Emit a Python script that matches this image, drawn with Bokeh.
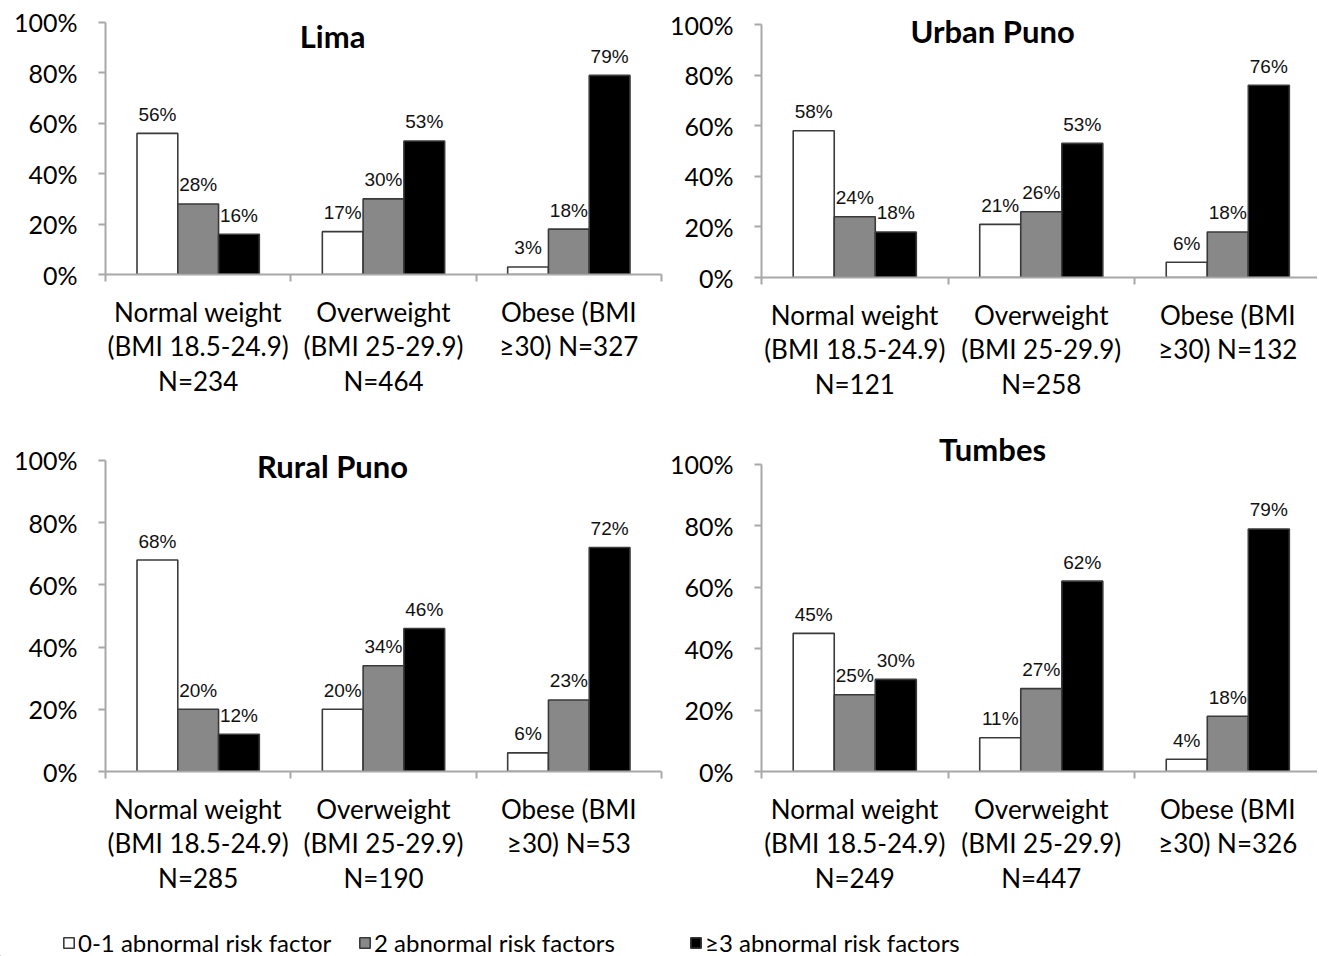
from bokeh.plotting import figure
from bokeh.models import (ColumnDataSource, FixedTicker, PrintfTickFormatter, Range1d,
                          Legend, LegendItem, Label)
from bokeh.layouts import column, row
from bokeh.transform import dodge
from bokeh.core.properties import value
from bokeh.embed import file_html
from bokeh.resources import INLINE

# ---------------- data ----------------
regions = ["Lima", "Urban Puno", "Rural Puno", "Tumbes"]
series = ["0-1 abnormal risk factor", "2 abnormal risk factors", "\u22653 abnormal risk factors"]
group_pos = [0.5, 1.5, 2.5]

lima_labels = ["Normal weight\n(BMI 18.5-24.9)\nN=234", "Overweight\n(BMI 25-29.9)\nN=464", "Obese (BMI\n\u226530) N=327"]
urban_labels = ["Normal weight\n(BMI 18.5-24.9)\nN=121", "Overweight\n(BMI 25-29.9)\nN=258", "Obese (BMI\n\u226530) N=132"]
rural_labels = ["Normal weight\n(BMI 18.5-24.9)\nN=285", "Overweight\n(BMI 25-29.9)\nN=190", "Obese (BMI\n\u226530) N=53"]
tumbes_labels = ["Normal weight\n(BMI 18.5-24.9)\nN=249", "Overweight\n(BMI 25-29.9)\nN=447", "Obese (BMI\n\u226530) N=326"]

lima_low = [56, 17, 3]
lima_two = [28, 30, 18]
lima_high = [16, 53, 79]

urban_low = [58, 21, 6]
urban_two = [24, 26, 18]
urban_high = [18, 53, 76]

rural_low = [68, 20, 6]
rural_two = [20, 34, 23]
rural_high = [12, 46, 72]

tumbes_low = [45, 11, 4]
tumbes_two = [25, 27, 18]
tumbes_high = [30, 62, 79]

y_ticks = [0, 20, 40, 60, 80, 100]

# ---------------- style ----------------
FILLS = ["#ffffff", "#888888", "#000000"]
OUTLINE = "#3a3a3a"
AXIS_COLOR = "#a8a8a8"
TICK_FONT = "Lato"
LBL_FONT = "Liberation Sans"
BAR_W = 0.22
OFFS = [-0.22, 0.0, 0.22]


def panel(name, low, two, high, labels, border_left, frame_w, x_end, frame_h, y_end,
          border_right, border_bottom, title_x, title_y):
    p = figure(frame_width=frame_w, frame_height=frame_h,
               min_border_left=border_left, min_border_right=border_right,
               min_border_top=0, min_border_bottom=border_bottom,
               x_range=Range1d(0, x_end), y_range=Range1d(0, y_end),
               toolbar_location=None, output_backend="svg")
    p.outline_line_color = None
    p.grid.visible = False
    p.background_fill_color = "white"
    p.border_fill_color = "white"

    src = ColumnDataSource(dict(
        x=group_pos, low=low, two=two, high=high,
        low_t=[f"{v}%" for v in low], two_t=[f"{v}%" for v in two], high_t=[f"{v}%" for v in high]))

    for col, off, fill in zip(["low", "two", "high"], OFFS, FILLS):
        p.vbar(x=dodge("x", off), top=col, width=BAR_W, bottom=0, source=src,
               fill_color=fill, line_color=OUTLINE, line_width=1.6)
        p.text(x=dodge("x", off), y=col, text=col + "_t", source=src,
               text_align="center", text_baseline="alphabetic", y_offset=-19,
               text_font=value(LBL_FONT), text_font_size="19px", text_color="#111111")

    p.add_layout(Label(x=title_x, y=title_y, text=name, text_align="center",
                       text_baseline="middle", text_font=TICK_FONT, text_font_style="bold",
                       text_font_size="31px", text_color="#000000"))

    ya = p.yaxis[0]
    ya.ticker = FixedTicker(ticks=y_ticks)
    ya.formatter = PrintfTickFormatter(format="%d%%")
    ya.bounds = (0, 100)
    ya.axis_line_color = AXIS_COLOR
    ya.axis_line_width = 2
    ya.major_tick_line_color = AXIS_COLOR
    ya.major_tick_line_width = 2
    ya.major_tick_out = 7
    ya.major_tick_in = 0
    ya.minor_tick_line_color = None
    ya.major_label_standoff = 21
    ya.major_label_text_font = TICK_FONT
    ya.major_label_text_font_size = "25px"
    ya.major_label_text_color = "#000000"

    xa = p.xaxis[0]
    xa.ticker = FixedTicker(ticks=group_pos, minor_ticks=[0, 1, 2, 3])
    xa.major_label_overrides = {gp: lab for gp, lab in zip(group_pos, labels)}
    xa.axis_line_color = AXIS_COLOR
    xa.axis_line_width = 2
    xa.major_tick_line_color = None
    xa.major_tick_out = 0
    xa.major_tick_in = 0
    xa.minor_tick_line_color = AXIS_COLOR
    xa.minor_tick_line_width = 2
    xa.minor_tick_out = 7
    xa.minor_tick_in = 0
    xa.major_label_standoff = 14
    xa.major_label_text_font = TICK_FONT
    xa.major_label_text_font_size = "26px"
    xa.major_label_text_line_height = 1.09
    xa.major_label_text_color = "#000000"
    return p


# top row: figures span y 0..425 ; bottom row: 425..901 ; legend strip: 901..956
p1 = panel("Lima", lima_low, lima_two, lima_high, lima_labels,
           105, 556, 3.0, 274, 108.73, 3, 151, 1.225, 94.8)
p2 = panel("Urban Puno", urban_low, urban_two, urban_high, urban_labels,
           97, 556, 2.981, 277, 109.49, 0, 148, 1.239, 97.6)
p3 = panel("Rural Puno", rural_low, rural_two, rural_high, rural_labels,
           105, 556, 3.0, 346, 111.25, 3, 130, 1.225, 98.1)
p4 = panel("Tumbes", tumbes_low, tumbes_two, tumbes_high, tumbes_labels,
           97, 556, 2.981, 346, 112.70, 0, 130, 1.239, 104.9)

# ---------------- legend strip ----------------
lg = figure(width=1317, height=55, min_border=0, x_range=Range1d(0, 1), y_range=Range1d(0, 1),
            toolbar_location=None, output_backend="svg")
lg.axis.visible = False
lg.grid.visible = False
lg.outline_line_color = None
lg.background_fill_color = "white"
lg.border_fill_color = "white"
# legend-only renderers (their single bar lies entirely outside the strip's visible range)
rs = [lg.vbar(x=[-5], top=[-4], bottom=[-5], width=0.1, fill_color=f, line_color=OUTLINE,
              line_width=1.6) for f in FILLS]
for name, r, xloc in zip(series, rs, [62, 358, 689]):
    leg = Legend(items=[LegendItem(label=name, renderers=[r])], location=(xloc, -1),
                 orientation="horizontal", border_line_color=None, background_fill_alpha=0,
                 padding=0, margin=0, spacing=0, label_standoff=3, glyph_width=13, glyph_height=13,
                 label_text_font=TICK_FONT, label_text_font_size="24px", label_text_color="#000000")
    lg.add_layout(leg)

layout = column(row(p1, p2), row(p3, p4), lg)
open("out.html", "w").write(file_html(layout, INLINE))
